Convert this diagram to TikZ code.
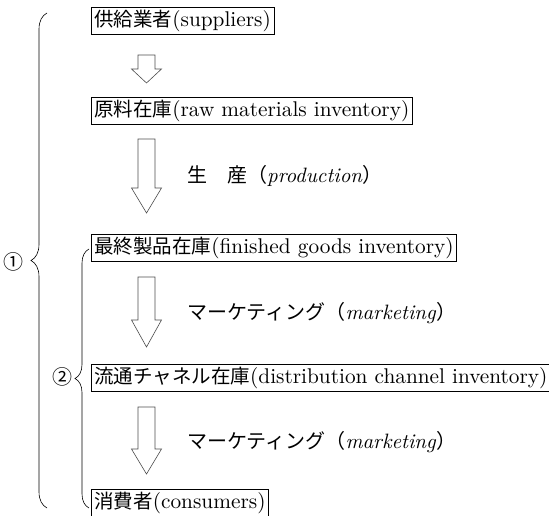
\documentclass[tikz,border=0pt]{standalone}
\usepackage{fontspec}
\setmainfont{lmroman10-regular.otf}[ItalicFont=lmroman10-italic.otf,BoldFont=lmroman10-bold.otf]
\newfontfamily\cjk{Noto Sans CJK JP}
\newcommand\bj[1]{{\fontsize{19.5pt}{24pt}\selectfont\cjk #1}}
\newcommand\lj[1]{{\fontsize{20pt}{24pt}\selectfont\cjk #1}}
\newcommand\blockarr[3]{%
  \draw[arrowline] (138,#1) -- (155,#1) -- (155,#2) -- (161.5,#2) -- (146.5,#3)
    -- (131.5,#2) -- (138,#2) -- cycle;}
\usetikzlibrary{decorations.pathreplacing}
\begin{document}
\begin{tikzpicture}[x=1pt,y=-1pt,
  stagebox/.style={font=\fontsize{21.3pt}{24pt}\selectfont, draw, line width=0.7pt, anchor=west, inner xsep=3pt, inner ysep=4pt, text height=15pt, text depth=4.5pt},
  arrowline/.style={draw=black!70, line width=0.6pt, line join=miter},
  flowlabel/.style={font=\fontsize{20.8pt}{24pt}\selectfont, anchor=west, inner sep=0pt},
  curly/.style={decorate, line width=0.6pt, decoration={brace, amplitude=#1}},
  circnum/.style={inner sep=0pt, font=\fontsize{20pt}{24pt}\selectfont\cjk}
]
\useasboundingbox (0,0) rectangle (549,516);

\node[stagebox] (sup) at (91,21) {\bj{供給業者}(suppliers)};
\node[stagebox] (raw) at (91,111) {\bj{原料在庫}(raw materials inventory)};
\node[stagebox] (fin) at (91,248) {\bj{最終製品在庫}(finished goods inventory)};
\node[stagebox] (dis) at (91,378) {\bj{流通チャネル在庫}(distribution channel inventory)};
\node[stagebox] (con) at (91,503) {\bj{消費者}(consumers)};

\blockarr{55}{69}{83}
\blockarr{139}{188}{213}
\blockarr{277}{320}{347}
\blockarr{407}{449}{474}

\node[flowlabel] (l1) at (187,176) {\lj{生　産（}\textit{production}\lj{）}};
\node[flowlabel] (l2) at (187,313) {\lj{マーケティング（}\textit{marketing}\lj{）}};
\node[flowlabel] (l3) at (187,442) {\lj{マーケティング（}\textit{marketing}\lj{）}};

\draw[curly=16pt] (47,508) -- (47,13);
\draw[curly=14pt] (89,508) -- (89,249);
\node[circnum] (n1) at (14,262) {①};
\node[circnum] (n2) at (62,377) {②};
\end{tikzpicture}
\end{document}
